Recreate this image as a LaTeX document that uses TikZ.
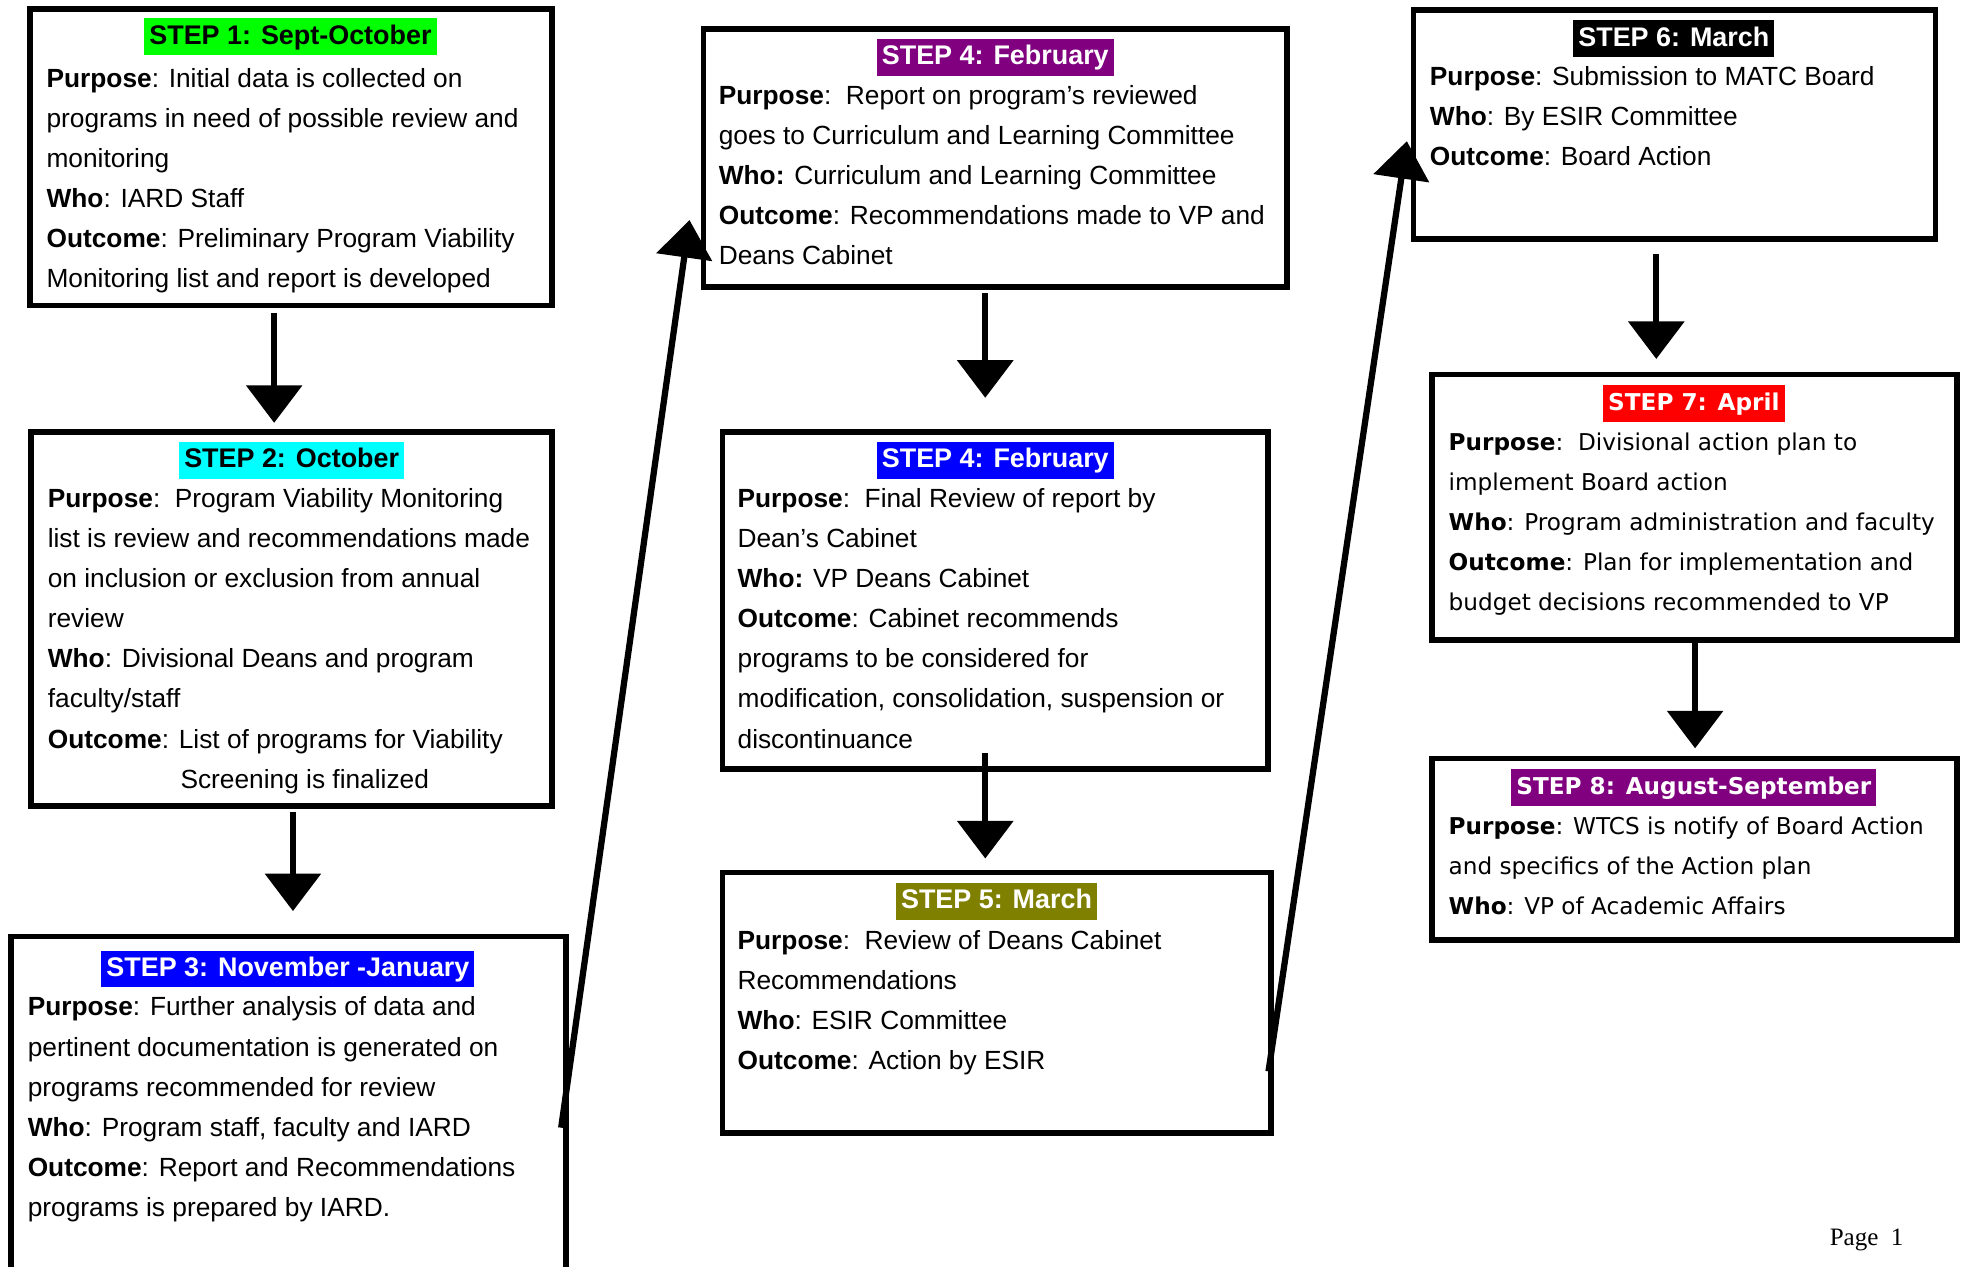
\documentclass[tikz,border=0pt]{standalone}
\usepackage{fontspec}
\setmainfont{Liberation Sans}
\newfontfamily\verdfont{DejaVu Sans}
\newfontfamily\serffont{Liberation Serif}
\usetikzlibrary{arrows.meta,calc}
\definecolor{stgreen}{RGB}{0,255,0}
\definecolor{stcyan}{RGB}{0,255,255}
\definecolor{stblue}{RGB}{0,0,255}
\definecolor{stpurple}{RGB}{128,0,128}
\definecolor{stolive}{RGB}{128,128,0}
\definecolor{stred}{RGB}{255,0,0}
\newcommand{\lines}[1]{\begin{tabular}[t]{@{}l@{}}#1\end{tabular}}
\begin{document}
\begin{tikzpicture}[x=1pt,y=-1pt,
  box/.style={draw, line width=4.5pt, rectangle, inner sep=0pt},
  ttl/.style={inner xsep=4pt, inner ysep=4.5pt, text height=16pt, text depth=4.5pt,
    font=\fontsize{21.5}{25}\selectfont\bfseries},
  vttl/.style={ttl, font=\verdfont\fontsize{18.5}{25}\selectfont\bfseries},
  body/.style={anchor=base west, inner sep=0pt, font=\fontsize{21}{32}\selectfont},
  vbody/.style={body, font=\verdfont\fontsize{18.5}{32}\selectfont},
  arr/.style={line width=5pt, -{Triangle[length=30pt,width=44pt]}},
]
\clip (0,0) rectangle (1568,1012);
\fill[white] (0,0) rectangle (1568,1012);

% boxes
\node[box, minimum width=417pt, minimum height=237pt] (b1) at (232.5,125.5) {};
\node[box, minimum width=416pt, minimum height=299pt] (b2) at (233,494.5) {};
\node[box, minimum width=443pt, minimum height=348pt] (b3) at (230.5,922) {};
\node[box, minimum width=466pt, minimum height=206pt] (b4a) at (795,126) {};
\node[box, minimum width=436pt, minimum height=269pt] (b4b) at (795,479.5) {};
\node[box, minimum width=438pt, minimum height=208pt] (b5) at (796,801) {};
\node[box, minimum width=417pt, minimum height=183pt] (b6) at (1337.5,99.5) {};
\node[box, minimum width=419pt, minimum height=212pt] (b7) at (1353.5,405) {};
\node[box, minimum width=419pt, minimum height=145pt] (b8) at (1353.5,678.5) {};

% titles
\node[ttl, fill=stgreen, text=black] (t1) at (232,29.5) {STEP 1: Sept-October};
\node[ttl, fill=stcyan, text=black] (t2) at (233,368) {STEP 2: October};
\node[ttl, fill=stblue, text=white] (t3) at (230,774) {STEP 3: November -January};
\node[ttl, fill=stpurple, text=white] (t4a) at (795,46) {STEP 4: February};
\node[ttl, fill=stblue, text=white] (t4b) at (795,368) {STEP 4: February};
\node[ttl, fill=stolive, text=white] (t5) at (796,720) {STEP 5: March};
\node[ttl, fill=black, text=white] (t6) at (1337,31) {STEP 6: March};
\node[vttl, fill=stred, text=white] (t7) at (1353,322) {STEP 7: April};
\node[vttl, fill=stpurple, text=white] (t8) at (1353,629) {STEP 8: August-September};

% bodies
\node[body] (x1) at (37,69.5) {\lines{%
\textbf{Purpose}: Initial data is collected on\\
programs in need of possible review and\\
monitoring\\
\textbf{Who}: IARD Staff\\
\textbf{Outcome}: Preliminary Program Viability\\
Monitoring list and report is developed}};

\node[body] (x2) at (38,405.5) {\lines{%
\textbf{Purpose}:\ \ Program Viability Monitoring\\
list is review and recommendations made\\
on inclusion or exclusion from annual\\
review\\
\textbf{Who}: Divisional Deans and program\\
faculty/staff\\
\textbf{Outcome}: List of programs for Viability\\
\hspace*{106pt}Screening is finalized}};

\node[body] (x3) at (22,811.5) {\lines{%
\textbf{Purpose}: Further analysis of data and\\
pertinent documentation is generated on\\
programs recommended for review\\
\textbf{Who}: Program staff, faculty and IARD\\
\textbf{Outcome}: Report and Recommendations\\
programs is prepared by IARD.}};

\node[body] (x4a) at (574,83.5) {\lines{%
\textbf{Purpose}:\ \ Report on program’s reviewed\\
goes to Curriculum and Learning Committee\\
\textbf{Who:} Curriculum and Learning Committee\\
\textbf{Outcome}: Recommendations made to VP and\\
Deans Cabinet}};

\node[body] (x4b) at (589,405.5) {\lines{%
\textbf{Purpose}:\ \ Final Review of report by\\
Dean’s Cabinet\\
\textbf{Who:} VP Deans Cabinet\\
\textbf{Outcome}: Cabinet recommends\\
programs to be considered for\\
modification, consolidation, suspension or\\
discontinuance}};

\node[body] (x5) at (589,758.5) {\lines{%
\textbf{Purpose}:\ \ Review of Deans Cabinet\\
Recommendations\\
\textbf{Who}: ESIR Committee\\
\textbf{Outcome}: Action by ESIR}};

\node[body] (x6) at (1142,68.5) {\lines{%
\textbf{Purpose}: Submission to MATC Board\\
\textbf{Who}: By ESIR Committee\\
\textbf{Outcome}: Board Action}};

\node[vbody] (x7) at (1157,359.5) {\lines{%
\textbf{Purpose}:\ \ Divisional action plan to\\
implement Board action\\
\textbf{Who}: Program administration and faculty\\
\textbf{Outcome}: Plan for implementation and\\
budget decisions recommended to VP}};

\node[vbody] (x8) at (1157,666.5) {\lines{%
\textbf{Purpose}: WTCS is notify of Board Action\\
and specifics of the Action plan\\
\textbf{Who}: VP of Academic Affairs}};

% page number
\node[anchor=base, inner sep=0pt, font=\serffont\fontsize{20}{24}\selectfont] (pg) at (1491,995) {Page\ \ 1};

% connectors
\draw[arr] ($(b1.south)+(-13.5,4)$) -- ($(b2.north)+(-14,-5)$);
\draw[arr] ($(b2.south)+(1,2)$) -- ($(b3.north)+(3.5,-18)$);
\draw[arr] ($(b3.north east)+(-6,155)$) -- ($(b4a.north west)+(-9,155)$);
\draw[arr] ($(b4a.south)+(-8,3)$) -- ($(b4b.north)+(-8,-25)$);
\draw[arr] ($(b4b.south)+(-8,-15)$) -- ($(b5.north)+(-9,-9)$);
\draw[arr] ($(b5.north east)+(-4,161)$) -- ($(b6.north west)+(-3,107)$);
\draw[arr] ($(b6.south)+(-14.5,10)$) -- ($(b7.north)+(-30.5,-10)$);
\draw[arr] ($(b7.south)+(0.5,-3)$) -- ($(b8.north)+(0.5,-6)$);
\end{tikzpicture}
\end{document}
